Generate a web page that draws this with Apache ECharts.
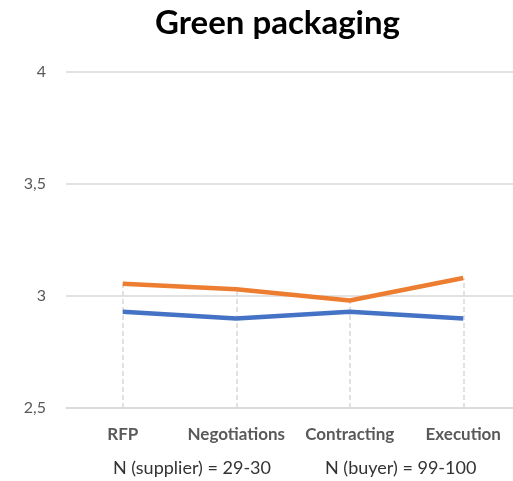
<!DOCTYPE html>
<html><head><meta charset="utf-8">
<script src="https://cdn.jsdelivr.net/npm/echarts@6/dist/echarts.min.js"></script>
<style>html,body{margin:0;padding:0;background:#fff}#c{width:513px;height:481px}</style>
</head><body><div id="c"></div>
<script>
const categories = ['RFP', 'Negotiations', 'Contracting', 'Execution'];
const buyerValues = [3.055, 3.03, 2.98, 3.08];
const supplierValues = [2.93, 2.90, 2.93, 2.90];
const yTicks = [2.5, 3, 3.5, 4];
const titleText = 'Green packaging';
const noteSupplier = 'N (supplier) = 29-30';
const noteBuyer = 'N (buyer) = 99-100';

const dropLines = categories.map((c, i) => [
  { xAxis: c, yAxis: yTicks[0] },
  { xAxis: c, yAxis: Math.max(buyerValues[i], supplierValues[i]) }
]);

const chart = echarts.init(document.getElementById('c'), null, { renderer: 'canvas' });
chart.setOption({
  animation: false,
  backgroundColor: '#fff',
  textStyle: { fontFamily: 'Lato' },
  title: {
    text: titleText, left: 150, top: 2,
    textStyle: { fontFamily: 'Lato', fontWeight: 'bold', fontSize: 33, color: '#000' }
  },
  grid: { left: 66, width: 454, top: 72, bottom: 73, containLabel: false, outerBoundsMode: 'none' },
  xAxis: {
    type: 'category', data: categories, boundaryGap: true,
    axisLine: { show: true, lineStyle: { color: '#d9d9d9', width: 1.5 } },
    axisTick: { show: false },
    axisLabel: { color: '#595959', fontWeight: 'bold', fontSize: 17, margin: 18, fontFamily: 'Lato', interval: 0, hideOverlap: false },
    splitLine: { show: false }
  },
  yAxis: {
    type: 'value', min: 2.5, max: 4, interval: 0.5,
    axisLine: { show: false }, axisTick: { show: false },
    axisLabel: {
      color: '#595959', fontSize: 16, margin: 20, fontFamily: 'Lato',
      formatter: v => String(v).replace('.', ',')
    },
    splitLine: { lineStyle: { color: '#d9d9d9', width: 1.5 } }
  },
  series: [
    {
      type: 'line', data: buyerValues, symbol: 'none',
      lineStyle: { color: '#ED7D31', width: 4.5 }, z: 3,
      markLine: {
        silent: true, symbol: 'none', label: { show: false },
        lineStyle: { color: '#d9d9d9', type: [5, 3], width: 1.5 },
        data: dropLines, z: 1
      }
    },
    {
      type: 'line', data: supplierValues, symbol: 'none',
      lineStyle: { color: '#4472C4', width: 4.5 }, z: 3
    }
  ],
  graphic: [
    { type: 'text', left: 113, top: 459, style: { text: noteSupplier, fill: '#333333', font: '18px Lato' } },
    { type: 'text', left: 325, top: 459, style: { text: noteBuyer, fill: '#333333', font: '18px Lato' } }
  ]
});
</script></body></html>
